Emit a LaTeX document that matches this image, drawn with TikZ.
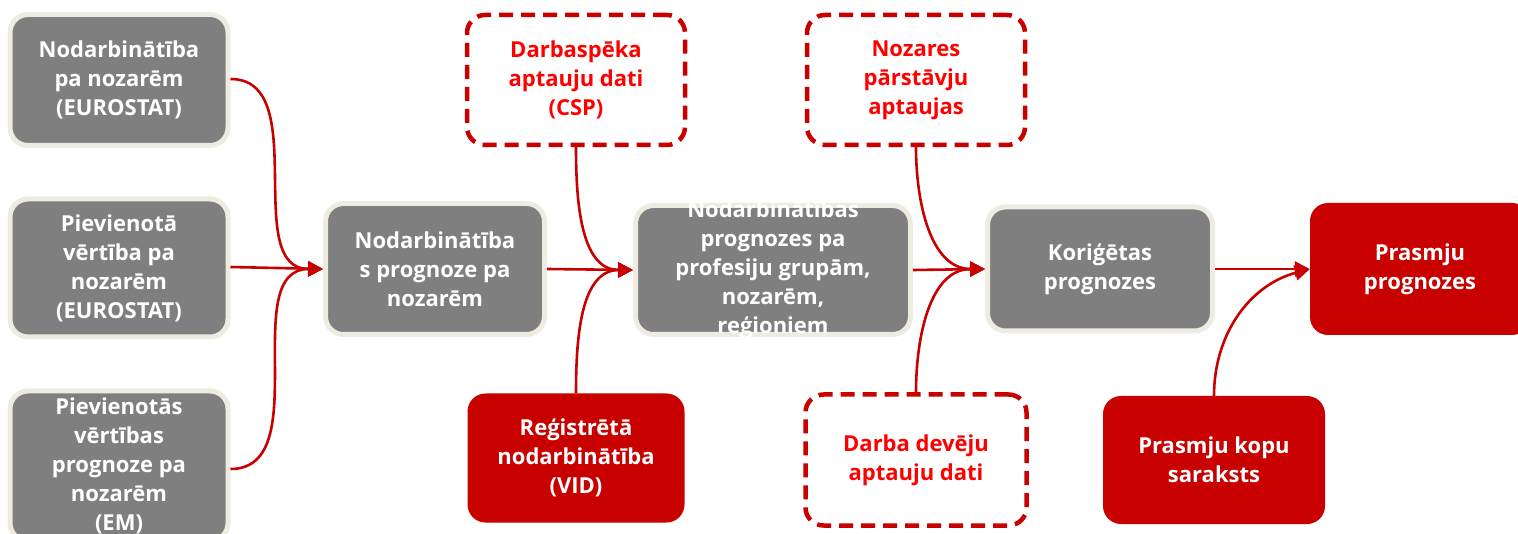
\documentclass[tikz,border=0pt]{standalone}
\usepackage{fontspec}
\setmainfont{Open Sans}
\usetikzlibrary{arrows.meta}
\definecolor{boxgray}{HTML}{7F7F7F}
\definecolor{beige}{HTML}{EEECE1}
\definecolor{darkred}{HTML}{C80000}
\definecolor{brightred}{HTML}{FF0000}
\tikzset{
  base/.style={rounded corners=18pt, align=center, inner sep=0pt,
    font=\fontsize{22pt}{29pt}\selectfont\bfseries},
  graybox/.style={base, draw=beige, line width=5pt, fill=boxgray, text=white},
  redbox/.style={base, fill=darkred, text=white},
  dashbox/.style={base, draw=darkred, line width=4.5pt, dash pattern=on 14pt off 8pt, fill=white, text=brightred},
  conn/.style={draw=darkred, line width=2.6pt, -{Triangle[length=15pt,width=15pt]}},
}
\begin{document}
\begin{tikzpicture}[x=1pt,y=-1pt]
\useasboundingbox (0,0) rectangle (1518,534);
% gray boxes
\node[graybox, minimum width=218pt, minimum height=131pt] (b1) at (119,80) {Nodarbinātība\\pa nozarēm\\(EUROSTAT)};
\node[graybox, minimum width=218pt, minimum height=138pt] (b2) at (119,268) {Pievienotā\\vērtība pa\\nozarēm\\(EUROSTAT)};
\node[graybox, minimum width=218pt, minimum height=150pt] (b3) at (119,466) {Pievienotās\\vērtības\\prognoze pa\\nozarēm\\(EM)};
\node[graybox, minimum width=219pt, minimum height=131pt] (b4) at (435,269) {Nodarbinātība\\s prognoze pa\\nozarēm};
\node[graybox, minimum width=275pt, minimum height=129pt] (b5) at (773,270) {};
\begin{scope}
\clip (633,203) rectangle (913,337);
\node[base, text=white] (b5t) at (773,270) {Nodarbinātības\\prognozes pa\\profesiju grupām,\\nozarēm,\\reģioniem};
\end{scope}
\node[graybox, minimum width=225pt, minimum height=124pt] (b6) at (1100,269) {Koriģētas\\prognozes};
% red boxes
\node[redbox, minimum width=220pt, minimum height=132pt] (r1) at (1420,269) {Prasmju\\prognozes};
\node[redbox, minimum width=222pt, minimum height=128pt] (r2) at (1214,460) {Prasmju kopu\\saraksts};
\node[redbox, minimum width=217pt, minimum height=129pt] (r3) at (576,458) {Reģistrētā\\nodarbinātība\\(VID)};
% dashed boxes
\node[dashbox, minimum width=218pt, minimum height=130pt] (d1) at (576,80) {Darbaspēka\\aptauju dati\\(CSP)};
\node[dashbox, minimum width=218pt, minimum height=130pt] (d2) at (916,80) {Nozares\\pārstāvju\\aptaujas};
\node[dashbox, minimum width=221pt, minimum height=131pt] (d3) at (916,460) {Darba devēju\\aptauju dati};
% connectors
\draw[conn] ([yshift=1pt]b1.east) to[out=0,in=180] (b4.west);
\draw[conn] ([yshift=1pt]b2.east) -- (b4.west);
\draw[conn] ([yshift=-3pt]b3.east) to[out=0,in=180] (b4.west);
\draw[conn] (b4.east) -- (b5.west);
\draw[conn] (d1.south) to[out=-90,in=180] (b5.west);
\draw[conn] (r3.north) to[out=90,in=180] (b5.west);
\draw[conn] (b5.east) -- (b6.west);
\draw[conn] (d2.south) to[out=-90,in=180] (b6.west);
\draw[conn] (d3.north) to[out=90,in=180] (b6.west);
\draw[conn] (b6.east) -- (r1.west);
\draw[conn] (r2.north) to[out=90,in=195] (r1.west);
\end{tikzpicture}
\end{document}
